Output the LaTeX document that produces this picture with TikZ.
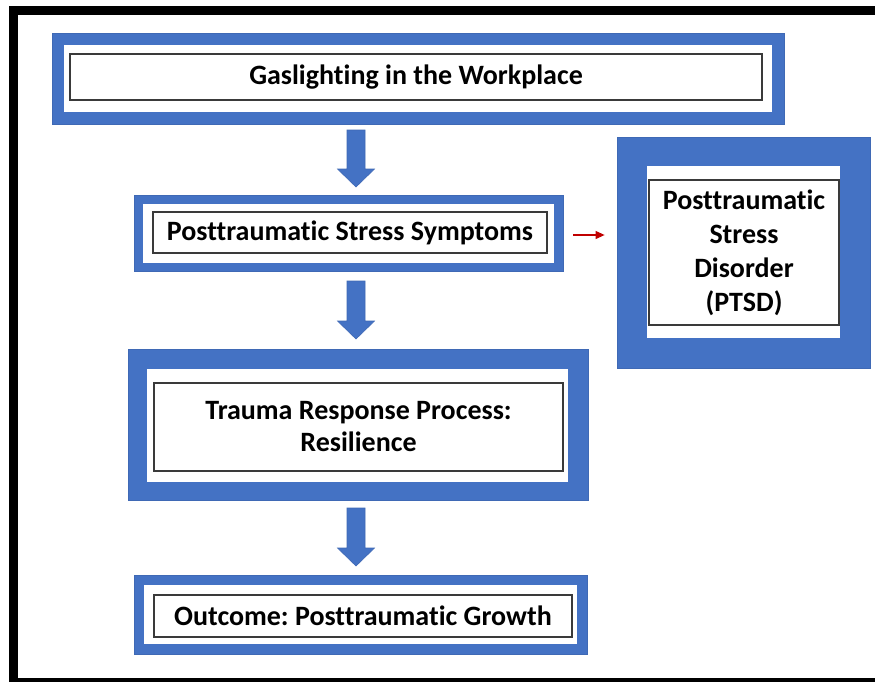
\documentclass[tikz,border=0pt]{standalone}
\usepackage{fontspec}
\setmainfont[Ligatures={NoCommon}]{Carlito}
\usetikzlibrary{arrows.meta}
\definecolor{officeblue}{HTML}{4472C4}
\definecolor{blueedge}{HTML}{3F69B5}
\definecolor{rimgray}{HTML}{3A3A3A}
\definecolor{linkred}{HTML}{C00000}
\tikzset{
  bluebox/.style={rectangle, fill=officeblue, draw=blueedge, line width=0.8pt, inner sep=0pt},
  whitepad/.style={rectangle, fill=white, inner sep=0pt},
  labelbox/.style={rectangle, fill=white, draw=rimgray, line width=1.4pt, inner sep=0pt,
    align=center, font=\fontsize{28}{32}\selectfont\bfseries\frenchspacing},
  blockarrow/.style={fill=officeblue, draw=blueedge, line width=0.6pt},
  sidelink/.style={draw=linkred, line width=1.1pt, -{Triangle[length=9pt,width=8pt]}},
}
% down-pointing block arrow: centre x, top y, tip y
\newcommand\blockdown[3]{%
  \path[blockarrow] (#1-9,#2) -- (#1+9,#2) -- (#1+9,#3-18) -- (#1+18.5,#3-18)
    -- (#1,#3) -- (#1-18.5,#3-18) -- (#1-9,#3-18) -- cycle;}
\begin{document}
\begin{tikzpicture}[x=1pt, y=-1pt]
\useasboundingbox (0,0) rectangle (875,681);
\fill[white] (0,0) rectangle (875,681);
% outer frame
\draw[line width=9pt] (13,10) rectangle (884,682);

% Gaslighting in the Workplace
\node[bluebox, minimum width=732pt, minimum height=91pt] (gasO) at (418,78.5) {};
\node[whitepad, minimum width=708pt, minimum height=67pt] at (418,78.5) {};
\node[labelbox, minimum width=692pt, minimum height=46pt] (gas) at (416,77) {Gaslighting in the Workplace};

% Posttraumatic Stress Symptoms
\node[bluebox, minimum width=429pt, minimum height=76pt] (ptsO) at (348.5,233) {};
\node[whitepad, minimum width=411pt, minimum height=59pt] at (348.5,233.5) {};
\node[labelbox, minimum width=394pt, minimum height=41pt] (pts) at (350,232.5) {Posttraumatic Stress Symptoms};

% Trauma Response Process: Resilience
\node[bluebox, minimum width=460pt, minimum height=151pt] (trO) at (358,424.5) {};
\node[whitepad, minimum width=421pt, minimum height=113pt] at (357.5,425.5) {};
\node[labelbox, minimum width=409pt, minimum height=88pt] (tr) at (358.5,427) {Trauma Response Process:\\Resilience};

% Outcome: Posttraumatic Growth
\node[bluebox, minimum width=453pt, minimum height=79pt] (outO) at (360.5,614.5) {};
\node[whitepad, minimum width=433pt, minimum height=59pt] at (360.5,614.5) {};
\node[labelbox, minimum width=418pt, minimum height=42pt] (out) at (363,616) {Outcome: Posttraumatic Growth};

% Posttraumatic Stress Disorder (PTSD)
\node[bluebox, minimum width=253pt, minimum height=231pt] (ptsdO) at (743.5,252.5) {};
\node[whitepad, minimum width=193pt, minimum height=172pt] at (743.5,252) {};
\node[labelbox, minimum width=190pt, minimum height=145pt, font=\fontsize{28}{34}\selectfont\bfseries] (ptsd) at (744,252.5) {Posttraumatic\\Stress\\Disorder\\(PTSD)};

% flow arrows
\blockdown{356}{130}{187}
\blockdown{356}{281}{339}
\blockdown{356}{508}{566}

% link to PTSD
\draw[sidelink, shorten <=10pt, shorten >=12pt] (ptsO.east |- 0,235) -- (ptsdO.west |- 0,235);
\end{tikzpicture}
\end{document}
